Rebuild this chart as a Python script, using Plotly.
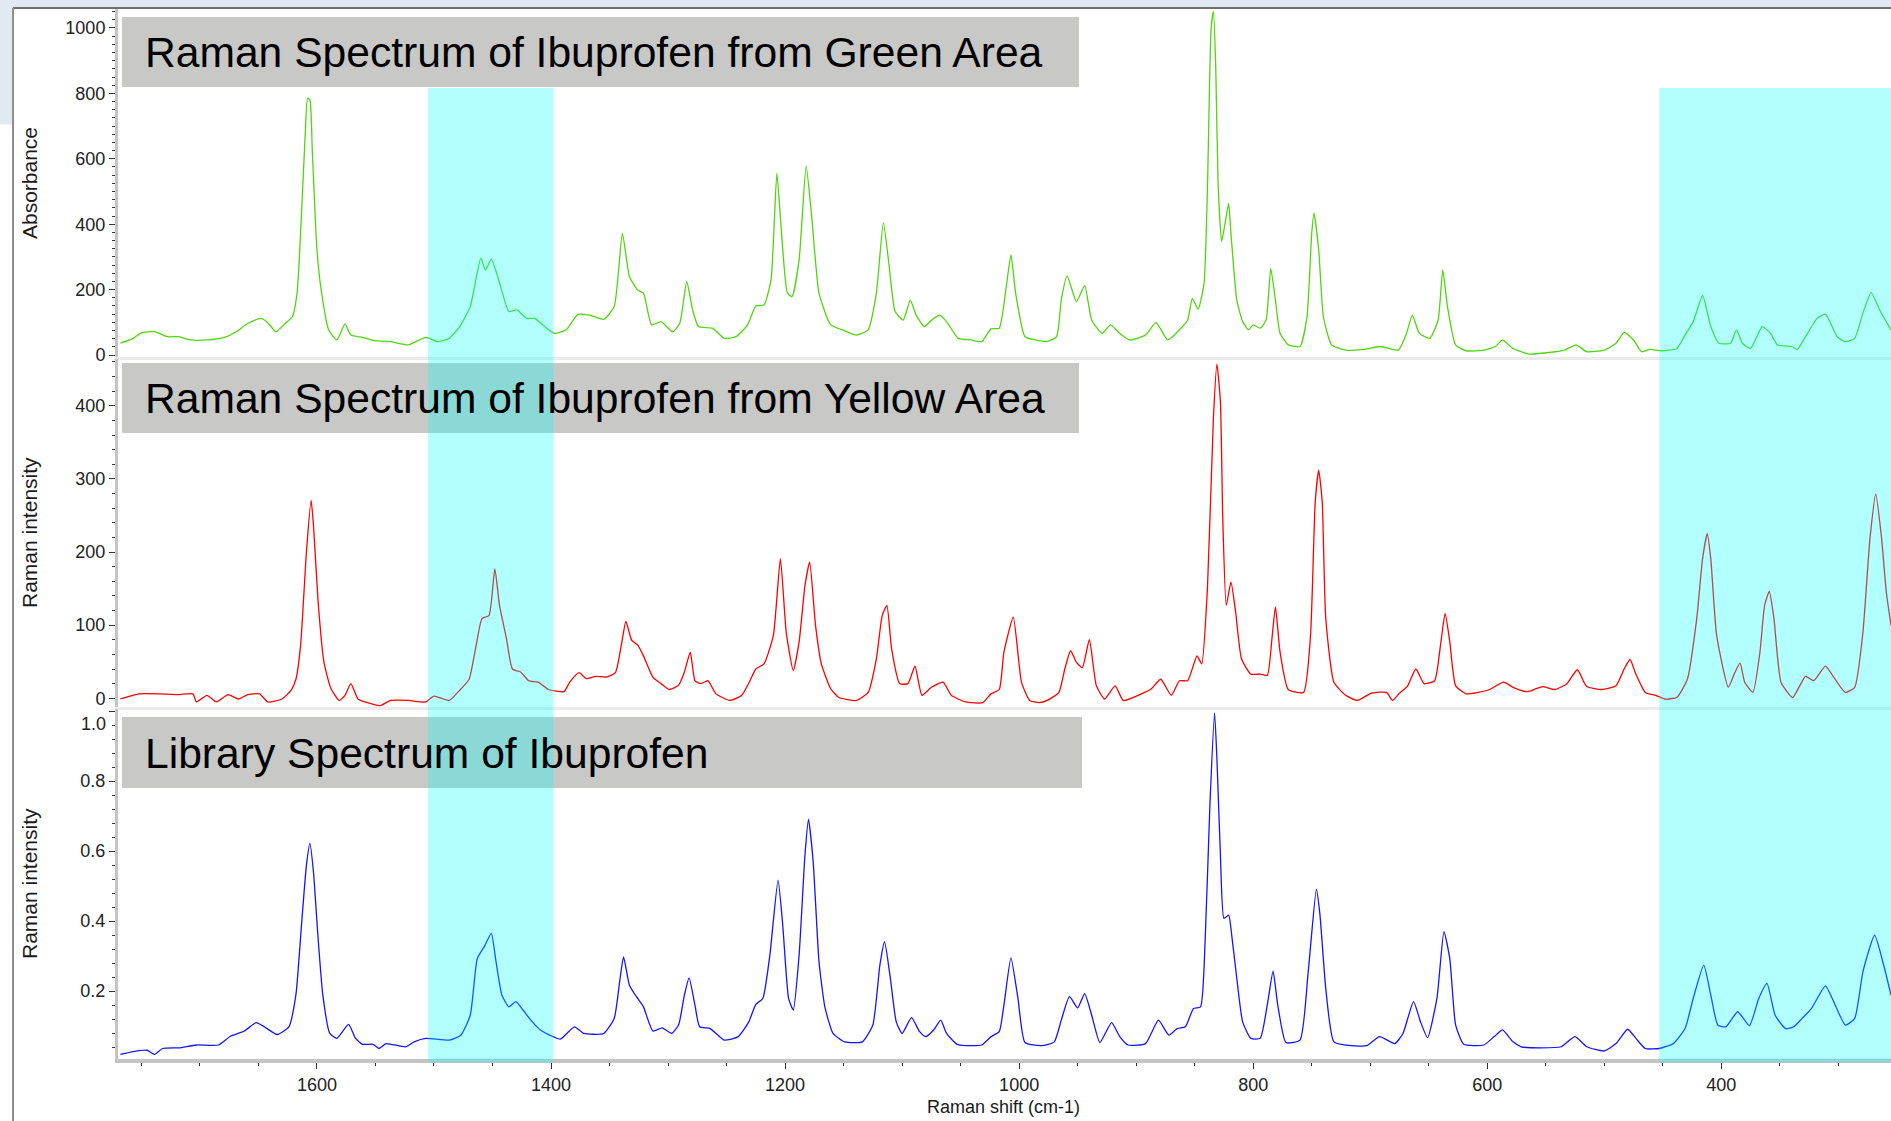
import plotly.graph_objects as go

# green area spectrum (Raman shift cm-1, counts)
green_wn = [1768, 1757, 1750, 1738, 1728, 1718, 1708, 1694, 1679, 1669, 1659, 1648, 1642, 1635, 1627, 1621,
            1617, 1614, 1610, 1608, 1606, 1604, 1600, 1596, 1590, 1583, 1576, 1571, 1561, 1551, 1537, 1522,
            1507, 1497, 1487, 1478, 1469, 1460, 1456, 1451, 1443, 1436, 1429, 1421, 1414, 1407, 1397, 1387,
            1377, 1367, 1355, 1346, 1339, 1333, 1326, 1321, 1314, 1306, 1296, 1290, 1284, 1279, 1274, 1262,
            1252, 1242, 1232, 1225, 1218, 1212, 1207, 1203, 1198, 1194, 1188, 1182, 1177, 1171, 1161, 1151,
            1139, 1129, 1122, 1116, 1111, 1106, 1099, 1093, 1088, 1081, 1074, 1068, 1062, 1052, 1041, 1032,
            1024, 1017, 1011, 1007, 1003, 995, 986, 976, 968, 964, 959, 951, 944, 938, 929, 922,
            914, 905, 892, 883, 873, 863, 856, 852, 847, 842, 839, 836, 834, 832, 830, 827,
            824, 821, 819, 814, 809, 804, 800, 794, 789, 785, 781, 777, 770, 760, 754, 750,
            748, 744, 740, 733, 721, 706, 691, 676, 669, 664, 658, 649, 642, 638, 634, 627,
            618, 603, 593, 587, 578, 564, 549, 534, 524, 515, 500, 490, 483, 475, 468, 461,
            451, 438, 431, 424, 416, 409, 402, 392, 387, 382, 375, 365, 358, 352, 340, 335,
            329, 318, 311, 301, 294, 286, 279, 272, 264, 255]
green_int = [36, 51, 68, 71, 56, 56, 46, 46, 54, 71, 97, 112, 99, 71, 97, 117,
             189, 372, 678, 785, 780, 627, 321, 189, 77, 46, 95, 61, 54, 44, 41, 31,
             54, 41, 51, 87, 148, 296, 260, 293, 209, 133, 138, 112, 112, 92, 66, 77,
             124, 122, 109, 148, 372, 240, 199, 189, 92, 102, 71, 97, 224, 138, 87, 82,
             51, 56, 92, 150, 153, 230, 556, 372, 189, 179, 291, 578, 413, 189, 92, 77,
             61, 77, 189, 405, 270, 133, 107, 168, 122, 87, 109, 122, 102, 51, 46, 41,
             80, 82, 209, 306, 189, 56, 46, 41, 56, 168, 242, 163, 212, 107, 66, 92,
             66, 46, 61, 99, 46, 77, 107, 173, 140, 219, 525, 995, 1051, 882, 525, 347,
             403, 464, 372, 168, 102, 77, 92, 82, 107, 265, 168, 66, 31, 26, 117, 372,
             434, 321, 117, 31, 15, 17, 26, 15, 66, 122, 66, 51, 107, 260, 148, 31,
             13, 15, 26, 46, 20, 3, 7, 15, 31, 10, 15, 36, 69, 46, 10, 17,
             13, 20, 61, 102, 182, 87, 36, 36, 77, 36, 20, 87, 66, 31, 26, 17,
             51, 112, 125, 56, 41, 51, 128, 191, 133, 77]

# yellow area spectrum
red_wn = [1768, 1752, 1735, 1718, 1706, 1703, 1694, 1686, 1676, 1667, 1659, 1649, 1642, 1630, 1622, 1618,
          1614, 1609, 1605, 1603, 1599, 1594, 1588, 1581, 1576, 1571, 1565, 1559, 1546, 1537, 1522, 1507,
          1500, 1487, 1478, 1470, 1464, 1459, 1453, 1448, 1444, 1438, 1433, 1426, 1419, 1411, 1402, 1389,
          1384, 1376, 1370, 1362, 1353, 1345, 1340, 1336, 1331, 1326, 1321, 1313, 1306, 1299, 1291, 1286,
          1281, 1277, 1272, 1266, 1259, 1247, 1237, 1230, 1225, 1218, 1210, 1204, 1199, 1193, 1188, 1183,
          1179, 1174, 1169, 1161, 1154, 1139, 1129, 1122, 1117, 1113, 1109, 1102, 1095, 1089, 1083, 1075,
          1065, 1058, 1046, 1031, 1024, 1017, 1013, 1005, 998, 991, 983, 976, 966, 961, 956, 951,
          946, 940, 934, 927, 918, 911, 897, 887, 879, 870, 863, 856, 848, 844, 839, 834,
          831, 828, 826, 823, 819, 815, 810, 802, 794, 788, 784, 781, 777, 770, 757, 751,
          747, 744, 741, 738, 731, 721, 711, 699, 686, 681, 675, 668, 661, 654, 645, 640,
          636, 632, 627, 618, 608, 598, 586, 578, 566, 553, 542, 532, 523, 515, 502, 490,
          483, 478, 473, 465, 456, 448, 438, 429, 421, 416, 412, 409, 404, 394, 389, 384,
          380, 373, 367, 363, 359, 355, 349, 339, 333, 328, 321, 311, 304, 294, 286, 279,
          273, 268, 263, 259, 255]
red_int = [-1, 6, 6, 5, 6, -5, 4, -5, 5, -1, 5, 6, -5, -1, 11, 26,
           72, 200, 271, 237, 132, 49, 13, -3, 4, 20, -1, -5, -10, -3, -3, -5,
           3, -3, 11, 26, 72, 109, 113, 177, 127, 81, 40, 36, 24, 22, 12, 9,
           22, 35, 27, 30, 29, 35, 72, 105, 79, 73, 58, 29, 20, 12, 18, 36,
           63, 24, 20, 24, 6, -3, 4, 24, 40, 47, 86, 191, 90, 38, 77, 154,
           186, 100, 47, 13, 1, -3, 8, 54, 113, 127, 68, 20, 20, 44, 4, 15,
           22, 4, -5, -6, 6, 12, 63, 111, 22, -3, -6, -3, 8, 40, 65, 49,
           42, 80, 17, -1, 17, -3, 5, 13, 26, 4, 24, 24, 58, 47, 154, 383,
           457, 405, 246, 127, 159, 118, 54, 33, 33, 31, 81, 125, 63, 12, 8, 86,
           268, 312, 268, 109, 22, 4, -3, 7, 8, -3, 7, 17, 40, 20, 24, 72,
           116, 77, 17, 6, 8, 12, 22, 15, 9, 16, 12, 20, 39, 16, 12, 17,
           40, 53, 33, 8, 4, -1, 1, 26, 109, 191, 225, 191, 86, 15, 33, 48,
           22, 8, 63, 127, 146, 109, 22, 1, 17, 30, 24, 44, 29, 8, 15, 90,
           218, 279, 218, 145, 100]

# library spectrum
blue_wn = [1768, 1757, 1745, 1739, 1732, 1718, 1703, 1684, 1674, 1662, 1652, 1645, 1634, 1624, 1618, 1613,
           1609, 1606, 1603, 1599, 1595, 1589, 1583, 1573, 1567, 1561, 1552, 1547, 1541, 1524, 1517, 1507,
           1487, 1477, 1469, 1463, 1457, 1451, 1447, 1442, 1436, 1430, 1424, 1416, 1409, 1399, 1392, 1380,
           1372, 1355, 1346, 1341, 1338, 1333, 1327, 1321, 1313, 1305, 1297, 1291, 1286, 1282, 1277, 1273,
           1264, 1252, 1240, 1231, 1225, 1219, 1213, 1206, 1202, 1197, 1193, 1188, 1183, 1180, 1176, 1171,
           1166, 1159, 1149, 1134, 1125, 1119, 1115, 1110, 1105, 1100, 1092, 1085, 1080, 1073, 1067, 1062,
           1053, 1041, 1032, 1024, 1017, 1013, 1007, 1001, 995, 981, 970, 964, 957, 950, 944, 938,
           931, 921, 914, 907, 892, 881, 872, 865, 858, 851, 845, 841, 837, 833, 831, 828,
           825, 821, 818, 814, 809, 802, 794, 788, 783, 779, 772, 760, 753, 746, 743, 738,
           731, 716, 703, 692, 679, 672, 663, 657, 651, 643, 637, 632, 627, 620, 603, 594,
           587, 578, 571, 554, 537, 525, 515, 500, 490, 480, 473, 465, 453, 441, 431, 424,
           415, 409, 403, 396, 386, 376, 368, 361, 354, 345, 338, 331, 323, 311, 304, 294,
           286, 279, 269, 262, 255]
blue_int = [0.019, 0.027, 0.031, 0.019, 0.036, 0.038, 0.046, 0.046, 0.071, 0.086, 0.110, 0.098, 0.076, 0.098, 0.189, 0.398,
            0.560, 0.622, 0.541, 0.350, 0.189, 0.079, 0.065, 0.105, 0.065, 0.048, 0.048, 0.036, 0.050, 0.041, 0.055, 0.065,
            0.060, 0.074, 0.131, 0.293, 0.327, 0.365, 0.284, 0.189, 0.155, 0.170, 0.146, 0.112, 0.089, 0.071, 0.063, 0.098,
            0.079, 0.079, 0.122, 0.236, 0.298, 0.217, 0.184, 0.155, 0.086, 0.095, 0.079, 0.103, 0.189, 0.238, 0.160, 0.098,
            0.093, 0.060, 0.070, 0.112, 0.162, 0.179, 0.303, 0.517, 0.389, 0.179, 0.146, 0.303, 0.589, 0.691, 0.570, 0.284,
            0.155, 0.079, 0.055, 0.055, 0.103, 0.274, 0.341, 0.236, 0.112, 0.079, 0.124, 0.084, 0.070, 0.089, 0.117, 0.079,
            0.048, 0.044, 0.046, 0.070, 0.084, 0.160, 0.295, 0.179, 0.053, 0.044, 0.055, 0.117, 0.184, 0.152, 0.193, 0.131,
            0.053, 0.110, 0.070, 0.046, 0.050, 0.117, 0.074, 0.093, 0.098, 0.150, 0.155, 0.350, 0.731, 0.995, 0.865, 0.589,
            0.408, 0.417, 0.350, 0.236, 0.112, 0.065, 0.065, 0.160, 0.257, 0.160, 0.053, 0.060, 0.255, 0.491, 0.420, 0.208,
            0.055, 0.044, 0.044, 0.070, 0.050, 0.079, 0.170, 0.112, 0.067, 0.179, 0.370, 0.293, 0.103, 0.048, 0.046, 0.070,
            0.089, 0.055, 0.041, 0.038, 0.041, 0.070, 0.041, 0.029, 0.050, 0.091, 0.065, 0.036, 0.036, 0.050, 0.093, 0.179,
            0.274, 0.189, 0.103, 0.098, 0.141, 0.101, 0.179, 0.222, 0.131, 0.093, 0.098, 0.122, 0.150, 0.215, 0.170, 0.103,
            0.122, 0.255, 0.360, 0.284, 0.189]

panel_titles = ["Raman Spectrum of Ibuprofen from Green Area",
                "Raman Spectrum of Ibuprofen from Yellow Area",
                "Library Spectrum of Ibuprofen"]
y_titles = ["Absorbance", "Raman intensity", "Raman intensity"]
highlight_bands = [(1505, 1398), (453, 255)]
lib_ticks = [0.2, 0.4, 0.6, 0.8, 1.0]

FONT = "Liberation Sans, Arial, sans-serif"
AXIS_GREY = "#c4c4c4"
TICK_COL = "#333333"

fig = go.Figure()
for wn, val, col, xa, ya in [(green_wn, green_int, "#4fd60c", "x", "y"),
                              (red_wn, red_int, "#ff0000", "x2", "y2"),
                              (blue_wn, blue_int, "#1414ff", "x3", "y3")]:
    fig.add_trace(go.Scatter(x=wn, y=val, mode="lines", xaxis=xa, yaxis=ya, showlegend=False,
                             line=dict(color=col, width=1.3, shape="spline", smoothing=0.5)))

xr = [1770, 255]
upper_x = dict(range=xr, showgrid=False, zeroline=False, showticklabels=False, ticks="",
               showline=True, linecolor="#ebebeb", linewidth=3)
tickfont = dict(family=FONT, size=18, color="#222222")


def yax(domain, rng, dtick, minor, anchor):
    return dict(domain=domain, range=rng, anchor=anchor, showgrid=False, zeroline=False,
                showline=True, linecolor=AXIS_GREY, linewidth=3,
                ticks="outside", ticklen=6, tickwidth=1, tickcolor=TICK_COL,
                tick0=0, dtick=dtick, tickfont=tickfont,
                minor=dict(dtick=minor, tick0=0, ticks="outside", ticklen=3, tickcolor=TICK_COL))


y3 = yax([0.0, 0.3333], [0.006, 1.006], 0.2, 0.04, "x3")
y3.update(tickmode="array", tickvals=lib_ticks,
          ticktext=["%.1f" % v for v in lib_ticks[:-1]] + [""])

fig.update_layout(
    width=1891, height=1121,
    margin=dict(l=118, r=0, t=9, b=62),
    paper_bgcolor="white", plot_bgcolor="white",
    xaxis=dict(upper_x, anchor="y"),
    xaxis2=dict(upper_x, anchor="y2"),
    xaxis3=dict(range=xr, anchor="y3", showgrid=False, zeroline=False,
                showline=True, linecolor=AXIS_GREY, linewidth=4,
                ticks="outside", ticklen=6, tickwidth=1, tickcolor=TICK_COL,
                tick0=0, dtick=200, tickfont=tickfont,
                minor=dict(dtick=50, tick0=0, ticks="outside", ticklen=3, tickcolor=TICK_COL)),
    yaxis=yax([0.6686, 1.0], [-6, 1058], 200, 25, "x"),
    yaxis2=yax([0.3352, 0.6667], [-12, 464], 100, 20, "x2"),
    yaxis3=y3,
)

shapes = []
# slide background / frame
shapes.append(dict(type="rect", xref="paper", yref="paper", x0=-0.07, x1=1.0, y0=1.001, y1=1.01,
                   fillcolor="#e3e9f3", line=dict(width=0), layer="below"))
shapes.append(dict(type="rect", xref="paper", yref="paper", x0=-0.07, x1=-0.0592, y0=0.89, y1=1.01,
                   fillcolor="#e3e9f3", line=dict(width=0), layer="below"))
shapes.append(dict(type="line", xref="paper", yref="paper", x0=-0.0592, x1=1.0, y0=1.001, y1=1.001,
                   line=dict(color="#707070", width=2)))
shapes.append(dict(type="line", xref="paper", yref="paper", x0=-0.0592, x1=-0.0592, y0=-0.06, y1=1.001,
                   line=dict(color="#8c8c8c", width=2)))

# grey title boxes
boxes = [(0.00226, 0.542, 0.9257, 0.9924), (0.00226, 0.542, 0.5962, 0.6629), (0.00226, 0.5437, 0.2581, 0.3257)]
for x0, x1, y0, y1 in boxes:
    shapes.append(dict(type="rect", xref="paper", yref="paper", x0=x0, x1=x1, y0=y0, y1=y1,
                       fillcolor="#c8c9c6", line=dict(width=0), layer="above"))

# cyan highlight bands
for a, b in highlight_bands:
    shapes.append(dict(type="rect", xref="x3", yref="paper", x0=a, x1=b, y0=-0.003, y1=0.9248,
                       fillcolor="rgba(0,255,255,0.3)", line=dict(width=0), layer="above"))
fig.update_layout(shapes=shapes)

ann = []
for t, yc in zip(panel_titles, [0.959, 0.6295, 0.2919]):
    ann.append(dict(text=t, xref="paper", yref="paper", x=0.0141, y=yc, xanchor="left", yanchor="middle",
                    showarrow=False, font=dict(family=FONT, size=42.6, color="#000000")))
for t, yc in zip(y_titles, [0.8343, 0.501, 0.1667]):
    ann.append(dict(text=t, xref="paper", yref="paper", x=-0.0496, y=yc, xanchor="center", yanchor="middle",
                    textangle=-90, showarrow=False, font=dict(family=FONT, size=21, color="#1a1a1a")))
# top label of the library axis sits a little below its tick
ann.append(dict(text="1.0", xref="paper", yref="paper", x=-0.0056, y=0.319, xanchor="right", yanchor="middle",
                showarrow=False, font=tickfont))
ann.append(dict(text="Raman shift (cm-1)", xref="paper", yref="paper", x=0.4997, y=-0.0457,
                xanchor="center", yanchor="middle", showarrow=False,
                font=dict(family=FONT, size=18, color="#1a1a1a")))
fig.update_layout(annotations=ann)

fig.write_html("out.html", config={"displayModeBar": False},
               post_script="document.body.style.margin='0';")
